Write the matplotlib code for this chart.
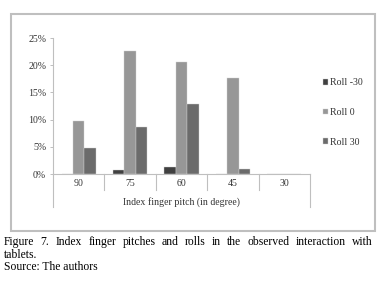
import matplotlib
matplotlib.use("Agg")
import matplotlib.pyplot as plt
from matplotlib.patches import Rectangle
import numpy as np

# data
pitches = ["90", "75", "60", "45", "30"]
series = ["Roll -30", "Roll 0", "Roll 30"]
roll_m30 = [0.0, 0.007, 0.013, 0.0, 0.0]
roll_0 = [0.097, 0.227, 0.206, 0.176, 0.0]
roll_30 = [0.047, 0.087, 0.129, 0.010, 0.0]
yticks = [0, 0.05, 0.10, 0.15, 0.20, 0.25]

colors = ["#404040", "#979797", "#6b6b6b"]
axis_col = "#bfbfbf"
txt_col = "#333333"
serif = "Liberation Serif"
fs = 7.1

W, H = 382, 285
fig = plt.figure(figsize=(W / 100, H / 100), dpi=100)


def fx(px):
    return px / W


def fy(py):
    return 1 - py / H


# outer frame of the chart object
fig.patches.append(Rectangle((fx(11), fy(231)), fx(375) - fx(11), fy(14) - fy(231),
                             transform=fig.transFigure, fill=False,
                             edgecolor=axis_col, linewidth=1.5))

ax = fig.add_axes([fx(53), fy(174), fx(310) - fx(53), fy(38) - fy(174)])
x = np.arange(len(pitches)) + 0.5
w = 0.222
for i, (name, vals) in enumerate(zip(series, [roll_m30, roll_0, roll_30])):
    ax.bar(x + (i - 1) * w, vals, w, color=colors[i], edgecolor="#d0d0d0",
           linewidth=0.3, label=name, zorder=2)

ax.set_xlim(0, len(pitches))
ax.set_ylim(0, 0.25)
ax.set_yticks(yticks)
ax.set_yticklabels([f"{int(round(t * 100))}%" for t in yticks])
ax.set_xticks(x)
ax.set_xticklabels(pitches)
ax.tick_params(axis="y", length=2.5, width=0.7, color=axis_col, pad=2.4,
               labelsize=fs, labelcolor=txt_col)
ax.tick_params(axis="x", length=0, pad=3.3, labelsize=fs, labelcolor=txt_col)
for lab in ax.get_xticklabels() + ax.get_yticklabels():
    lab.set_fontfamily(serif)

for s in ["top", "right"]:
    ax.spines[s].set_visible(False)
ax.spines["left"].set_color(axis_col)
ax.spines["bottom"].set_color(axis_col)
ax.spines["left"].set_linewidth(0.8)
ax.spines["bottom"].set_linewidth(0.8)

# category table lines under the axis
low = -(207 - 174) / (174 - 38)
mid = -(190 - 174) / (174 - 38)
ax.axvline(0, ymin=low, ymax=0, color=axis_col, lw=0.8, clip_on=False)
ax.axvline(len(pitches), ymin=low, ymax=0, color=axis_col, lw=0.8, clip_on=False)
for k in range(1, len(pitches)):
    ax.axvline(k, ymin=mid, ymax=0, color=axis_col, lw=0.8, clip_on=False)

fig.text(fx(181.5), fy(202), "Index finger pitch (in degree)", ha="center",
         va="center", fontsize=fs, family=serif, color=txt_col)

ax.legend(loc="center left", bbox_to_anchor=(fx(323), fy(112.5)),
          bbox_transform=fig.transFigure, frameon=False, borderpad=0,
          borderaxespad=0, handlelength=0.5, handleheight=0.5,
          handletextpad=0.25, labelspacing=2.1,
          prop={"family": serif, "size": fs}, labelcolor=txt_col)

# caption, first line justified
line1 = "Figure 7. Index finger pitches and rolls in the observed interaction with"
cap_size = 8.4
words = line1.split()
fig.canvas.draw()
r = fig.canvas.get_renderer()
items = []
total = 0
for wd in words:
    t = fig.text(0, fy(245), wd, fontsize=cap_size, family=serif, va="baseline")
    bw = t.get_window_extent(r).width
    items.append((t, bw))
    total += bw
x0, x1 = 4, 373
gap = (x1 - x0 - total) / (len(words) - 1)
pos = x0
for t, bw in items:
    t.set_x(fx(pos))
    pos += bw + gap
fig.text(fx(4), fy(257.5), "tablets.", fontsize=cap_size, family=serif, va="baseline")
fig.text(fx(4), fy(270), "Source: The authors", fontsize=cap_size, family=serif,
         va="baseline")

fig.savefig("out.png", dpi=100)
